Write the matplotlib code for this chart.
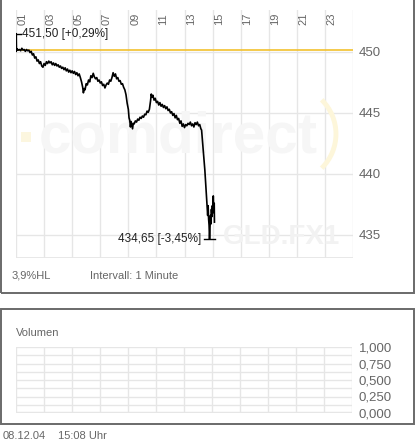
import numpy as np
import matplotlib
matplotlib.use("Agg")
import matplotlib.pyplot as plt
from matplotlib.patches import Rectangle, Arc
import matplotlib.transforms as mtransforms

plt.rcParams['font.family'] = ['Liberation Sans', 'DejaVu Sans']

# intraday gold quote: (minutes since midnight, price)
quote = [
    (60, 450.05), (61, 451.50), (62, 450.10), (65, 450.25), (70, 450.15),
    (75, 450.20), (80, 450.10), (85, 450.30), (90, 450.15), (95, 450.20),
    (100, 450.05), (105, 450.20), (110, 450.10), (115, 450.15), (120, 449.95),
    (125, 450.05), (130, 449.75), (135, 449.85), (140, 449.50), (145, 449.60),
    (150, 449.25), (155, 449.35), (160, 449.05), (165, 449.20), (170, 448.85),
    (175, 448.75), (180, 449.05), (185, 448.90), (190, 449.20), (195, 449.05),
    (200, 449.25), (205, 449.10), (210, 449.20), (215, 448.95), (220, 449.10),
    (225, 448.90), (230, 449.05), (235, 448.85), (240, 448.95), (245, 448.75),
    (250, 448.85), (255, 448.65), (260, 448.75), (265, 448.55), (270, 448.70),
    (275, 448.45), (280, 448.60), (285, 448.35), (290, 448.50), (295, 448.30),
    (300, 448.45), (305, 448.25), (310, 448.40), (315, 448.15), (320, 448.30),
    (325, 448.05), (330, 448.20), (335, 447.90), (340, 447.55), (345, 447.10),
    (348, 446.65), (352, 447.00), (355, 446.90), (360, 447.40), (365, 447.30),
    (370, 447.70), (375, 447.55), (380, 448.05), (385, 447.90), (390, 448.25),
    (395, 447.95), (400, 447.80), (405, 447.90), (410, 447.60), (415, 447.70),
    (420, 447.45), (425, 447.55), (430, 447.25), (435, 447.35), (440, 447.05),
    (445, 447.30), (450, 447.45), (455, 447.35), (460, 447.70), (465, 447.60),
    (470, 447.90), (475, 448.30), (480, 448.00), (485, 448.20), (490, 447.80),
    (495, 447.90), (500, 447.60), (505, 447.65), (510, 447.35), (515, 447.40),
    (520, 447.10), (525, 446.90), (530, 446.50), (535, 445.80), (540, 445.30),
    (543, 444.60), (546, 444.40), (549, 443.85), (552, 444.30), (555, 444.00),
    (558, 443.70), (561, 444.15), (565, 444.10), (570, 444.35), (575, 444.25),
    (580, 444.50), (585, 444.40), (590, 444.65), (595, 444.55), (600, 444.75),
    (605, 444.65), (610, 444.90), (615, 444.85), (620, 445.15), (625, 445.05),
    (630, 445.30), (635, 446.00), (638, 446.55), (641, 446.30), (645, 446.45),
    (650, 446.05), (655, 446.20), (660, 445.85), (665, 445.95), (670, 445.65),
    (675, 445.85), (680, 445.55), (685, 445.70), (690, 445.45), (695, 445.60),
    (700, 445.35), (705, 445.50), (710, 445.20), (715, 445.30), (720, 445.00),
    (725, 445.10), (730, 444.80), (735, 444.95), (740, 444.60), (745, 444.80),
    (750, 444.45), (755, 444.55), (760, 444.15), (765, 444.35), (770, 443.90),
    (775, 444.10), (780, 443.80), (785, 444.05), (790, 443.95), (795, 444.15),
    (800, 444.05), (805, 444.25), (810, 443.95), (815, 444.10), (820, 443.85),
    (825, 444.20), (830, 444.05), (835, 444.25), (840, 443.95), (845, 444.05),
    (850, 443.70), (853, 443.60), (856, 442.90), (860, 442.00), (864, 441.10),
    (867, 440.30), (870, 439.40), (874, 438.10), (877, 437.30), (879, 436.60),
    (881, 437.40), (883, 436.30), (885, 435.80), (887, 434.65), (889, 435.60),
    (891, 436.60), (893, 435.90), (895, 437.10), (897, 436.50), (899, 437.40),
    (901, 436.80), (903, 438.20), (905, 437.00), (907, 437.60), (908, 436.05),
]
minutes = [m for m, p in quote]
prices = [p for m, p in quote]
prev_close = 450.18
high_val, high_min = 451.50, 61
low_val, low_min = 434.65, 887
hour_labels = ['01', '03', '05', '07', '09', '11', '13', '15', '17', '19', '21', '23']
price_ticks = [435, 440, 445, 450]
vol_ticks = [0.0, 0.25, 0.5, 0.75, 1.0]

W, H = 417, 443
fig = plt.figure(figsize=(W / 100, H / 100), dpi=100)
fig.patch.set_facecolor('white')


def box(x0, y0, x1, y1):
    # pixel coordinates, origin top-left
    return [x0 / W, 1 - y1 / H, (x1 - x0) / W, (y1 - y0) / H]


grid_c = '#e6e6e6'
text_c = '#666666'

# panel frames
for (x0, y0, x1, y1) in [(1, -2, 414, 292.5), (1, 309, 414, 424)]:
    fig.patches.append(Rectangle((x0 / W, 1 - y1 / H), (x1 - x0) / W, (y1 - y0) / H,
                                 transform=fig.transFigure, fill=False,
                                 edgecolor='#6a6a6a', linewidth=1.4))

# ---- price panel
ax = fig.add_axes(box(16, 10, 353, 258))
hours = np.array(minutes) / 60.0
ax.set_xlim(1, 25)
ax.set_ylim(433.11, 453.44)
for h in range(1, 26, 2):
    ax.axvline(h, color=grid_c, lw=1, zorder=0)
for p in price_ticks:
    ax.axhline(p, color=grid_c, lw=1, zorder=0)
ax.axhline(433.11, color=grid_c, lw=2, zorder=0)

# watermark (logo)
ax.text(0.068, 0.427, 'comdirect', transform=ax.transAxes, fontsize=42,
        fontweight='bold', color='#f6f6f6', ha='left', va='baseline', zorder=1)
ax.add_patch(Rectangle((1.35, 442.65), 0.7, 0.8, color='#fcf6df', zorder=1, lw=0))
ax.add_patch(Arc((0.807, 0.5), 96 / 337, 96 / 248, theta1=-54, theta2=54,
                 transform=ax.transAxes, color='#fdf6da', lw=3.5, zorder=1))
ax.text(0.615, 0.055, 'GLD.FX1', transform=ax.transAxes, fontsize=20,
        fontweight='bold', color='#f2f2f2', ha='left', va='baseline', zorder=1)

ax.axhline(prev_close, color='#f2c12e', lw=1.2, zorder=2)
ax.plot(hours, prices, color='black', lw=1.2, zorder=3)

hh, lh = high_min / 60.0, low_min / 60.0
ax.plot([hh - 0.36, hh + 0.36], [high_val, high_val], color='black', lw=1, zorder=3)
ax.plot([lh - 0.42, lh + 0.42], [low_val, low_val], color='black', lw=1, zorder=3)
ax.text(hh + 0.4, high_val, '451,50 [+0,29%]', fontsize=8.5, color='#222222',
        ha='left', va='center')
ax.text(lh - 0.6, low_val, '434,65 [-3,45%]', fontsize=8.5, color='#222222',
        ha='right', va='center')

trans = mtransforms.blended_transform_factory(ax.transData, ax.transAxes)
for i, lab in enumerate(hour_labels):
    ax.text(1 + 2 * i + 0.13, 0.988, lab, transform=trans, rotation=90,
            fontsize=8, color=text_c, ha='left', va='top')

ax.set_xticks([])
ax.yaxis.tick_right()
ax.set_yticks(price_ticks)
ax.set_yticklabels([str(p) for p in price_ticks])
ax.tick_params(axis='y', length=0, pad=4, labelsize=9.5, labelcolor=text_c)
for s in ax.spines.values():
    s.set_visible(False)

fig.text(12 / W, 1 - 276 / H, '3,9%HL', fontsize=8, color=text_c, va='center')
fig.text(90 / W, 1 - 276 / H, 'Intervall: 1 Minute', fontsize=8, color=text_c, va='center')

# ---- volume panel
av = fig.add_axes(box(16, 347, 352, 413))
av.set_xlim(1, 25)
av.set_ylim(0, 1)
for h in range(1, 26, 2):
    av.axvline(h, color=grid_c, lw=1, zorder=0)
for v in np.arange(0.125, 1.01, 0.125):
    av.axhline(v, color=grid_c, lw=1, zorder=0)
av.axhline(0, color=grid_c, lw=2.5, zorder=0)
av.set_xticks([])
av.yaxis.tick_right()
av.set_yticks(vol_ticks)
av.set_yticklabels([f'{v:.3f}'.replace('.', ',') for v in vol_ticks])
av.tick_params(axis='y', length=0, pad=5, labelsize=9.5, labelcolor=text_c)
for s in av.spines.values():
    s.set_visible(False)
fig.text(16 / W, 1 - 333 / H, 'Volumen', fontsize=8, color=text_c, va='center')

fig.text(3 / W, 1 - 436 / H, '08.12.04', fontsize=8, color=text_c, va='center')
fig.text(58 / W, 1 - 436 / H, '15:08 Uhr', fontsize=8, color=text_c, va='center')

fig.savefig('out.png', dpi=100)
